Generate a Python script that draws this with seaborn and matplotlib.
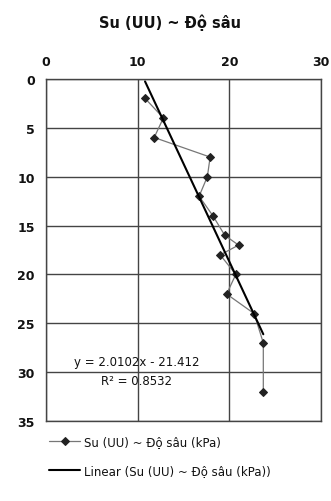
import numpy as np
import pandas as pd
import seaborn as sns
import matplotlib.pyplot as plt

# Su (UU) in kPa vs depth (m)
su_kpa = [10.8, 12.8, 11.8, 17.9, 17.6, 16.7, 18.2, 19.5, 21.0, 19.0, 20.7, 19.7, 22.7, 23.7, 23.7]
depth_m = [2, 4, 6, 8, 10, 12, 14, 16, 17, 18, 20, 22, 24, 27, 32]
x_ticks = [0, 10, 20, 30]
y_ticks = [0, 5, 10, 15, 20, 25, 30, 35]

series_label = "Su (UU) ~ Độ sâu (kPa)"
trend_label = "Linear (Su (UU) ~ Độ sâu (kPa))"
eq_text = "y = 2.0102x - 21.412\nR² = 0.8532"

df = pd.DataFrame({"su": su_kpa, "depth": depth_m})

sns.set_style("white")
plt.rcParams['font.family'] = ['DejaVu Sans']
plt.rcParams['text.color'] = '#111111'

fig = plt.figure(figsize=(3.31, 5.02), dpi=100)
ax = fig.add_axes([0.139, 0.159, 0.831, 0.682])

# estimator=None keeps both points at the same Su instead of averaging them
sns.lineplot(data=df, x="su", y="depth", sort=False, estimator=None, ax=ax,
             color="#777777", linewidth=0.9, marker="D", markersize=4,
             markerfacecolor="#222222", markeredgecolor="#222222",
             label=series_label, legend=False)
sns.regplot(data=df, x="su", y="depth", ax=ax, ci=None, scatter=False,
            line_kws={"color": "black", "linewidth": 1.5}, label=trend_label)

ax.set_xlim(0, 30)
ax.set_ylim(35, 0)
ax.set_xticks(x_ticks)
ax.set_yticks(y_ticks)
ax.xaxis.tick_top()
ax.tick_params(axis="both", length=0, labelsize=9, pad=8, labelcolor="#111111")
for lab in ax.get_xticklabels() + ax.get_yticklabels():
    lab.set_fontweight("bold")
ax.set_xlabel("")
ax.set_ylabel("")
ax.grid(True, color="#444444", linewidth=1.0)
for s in ax.spines.values():
    s.set_color("#444444")
    s.set_linewidth(1.0)

ax.text(0.33, 0.147, eq_text, transform=ax.transAxes, ha="center", va="center",
        fontsize=8.5, linespacing=1.6)

fig.text(0.514, 0.955, "Su (UU) ~ Độ sâu", ha="center", va="center",
         fontsize=10.5, fontweight="bold")

handles, labels = ax.get_legend_handles_labels()
fig.legend(handles, labels, loc="upper left", bbox_to_anchor=(0.135, 0.14),
           frameon=False, fontsize=8.5, handlelength=2.6, handletextpad=0.3,
           labelspacing=1.3, borderaxespad=0)

fig.savefig("out.png", dpi=100)
